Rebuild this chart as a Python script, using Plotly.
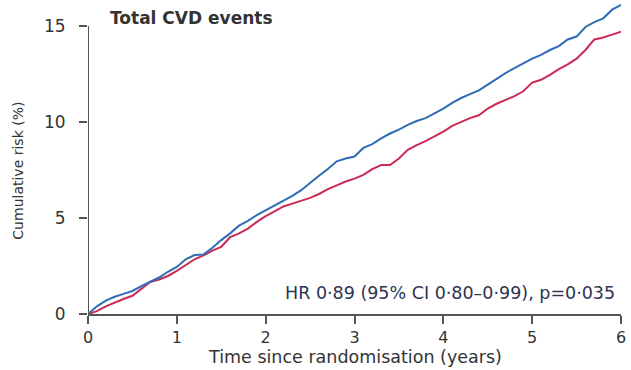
import plotly.graph_objects as go

years = [round(i * 0.1, 1) for i in range(61)]

blue_risk = [0, 0.4, 0.7, 0.9, 1.05, 1.2, 1.45, 1.67, 1.9, 2.2,
             2.45, 2.85, 3.07, 3.1, 3.45, 3.85, 4.2, 4.6, 4.85, 5.15,
             5.4, 5.65, 5.9, 6.15, 6.45, 6.85, 7.2, 7.55, 7.95, 8.1,
             8.2, 8.65, 8.85, 9.15, 9.4, 9.6, 9.85, 10.05, 10.2, 10.45,
             10.7, 11.0, 11.25, 11.45, 11.65, 11.95, 12.25, 12.55, 12.8, 13.05,
             13.3, 13.5, 13.75, 13.95, 14.3, 14.45, 14.95, 15.2, 15.4, 15.85,
             16.1]

red_risk = [0, 0.15, 0.4, 0.6, 0.78, 0.95, 1.3, 1.67, 1.8, 1.98,
            2.25, 2.55, 2.85, 3.05, 3.3, 3.5, 4.0, 4.2, 4.45, 4.8,
            5.1, 5.35, 5.6, 5.75, 5.9, 6.05, 6.25, 6.5, 6.7, 6.9,
            7.05, 7.25, 7.55, 7.76, 7.76, 8.1, 8.55, 8.8, 9.0, 9.25,
            9.5, 9.8, 10.0, 10.2, 10.35, 10.7, 10.95, 11.15, 11.35, 11.6,
            12.05, 12.2, 12.45, 12.75, 13.0, 13.3, 13.75, 14.3, 14.4, 14.55,
            14.7]

x_ticks = [0, 1, 2, 3, 4, 5, 6]
y_ticks = [0, 5, 10, 15]

FONT = "DejaVu Sans"
TXT = "#333333"
AX = "#555555"

fig = go.Figure()
fig.add_trace(go.Scatter(x=years, y=red_risk, mode="lines",
                         line=dict(color="#cc2a55", width=2), showlegend=False))
fig.add_trace(go.Scatter(x=years, y=blue_risk, mode="lines",
                         line=dict(color="#2e6db4", width=2), showlegend=False))

# y axis line only up to 15
fig.add_shape(type="line", xref="x", yref="y", x0=0, x1=0, y0=0, y1=15,
              line=dict(color=AX, width=2), layer="above")

fig.update_layout(
    width=631, height=370,
    margin=dict(l=88, r=10, t=2, b=56),
    paper_bgcolor="white", plot_bgcolor="white",
    font=dict(family=FONT, color=TXT, size=15),
    xaxis=dict(range=[0, 6], tickvals=x_ticks, ticktext=[str(v) for v in x_ticks],
               showgrid=False, zeroline=False, showline=True, linecolor=AX, linewidth=2,
               ticks="outside", ticklen=8, tickwidth=2, tickcolor=AX,
               tickfont=dict(size=16, color=TXT, family=FONT), ticklabelstandoff=0),
    yaxis=dict(range=[0, 16.25], tickvals=y_ticks, ticktext=[str(v) for v in y_ticks],
               showgrid=False, zeroline=False, showline=False,
               ticks="outside", ticklen=8, tickwidth=2, tickcolor=AX,
               tickfont=dict(size=17, color=TXT, family=FONT), ticklabelstandoff=10),
    annotations=[
        dict(text="<b>Total CVD events</b>", xref="paper", yref="paper",
             x=0.0375, y=0.949, xanchor="left", yanchor="middle", showarrow=False,
             font=dict(size=17, color=TXT, family=FONT)),
        dict(text="HR 0·89 (95% CI 0·80–0·99), p=0·035", xref="paper", yref="paper",
             x=0.9925, y=0.067, xanchor="right", yanchor="middle", showarrow=False,
             font=dict(size=17.5, color="#2b3550", family=FONT)),
        dict(text="Cumulative risk (%)", xref="paper", yref="paper",
             x=-0.131, y=0.46, xanchor="center", yanchor="middle", showarrow=False,
             textangle=-90, font=dict(size=14, color=TXT, family=FONT)),
        dict(text="Time since randomisation (years)", xref="paper", yref="paper",
             x=0.5, y=-0.138, xanchor="center", yanchor="middle", showarrow=False,
             font=dict(size=17.5, color=TXT, family=FONT)),
    ],
)

fig.write_html("out.html")
